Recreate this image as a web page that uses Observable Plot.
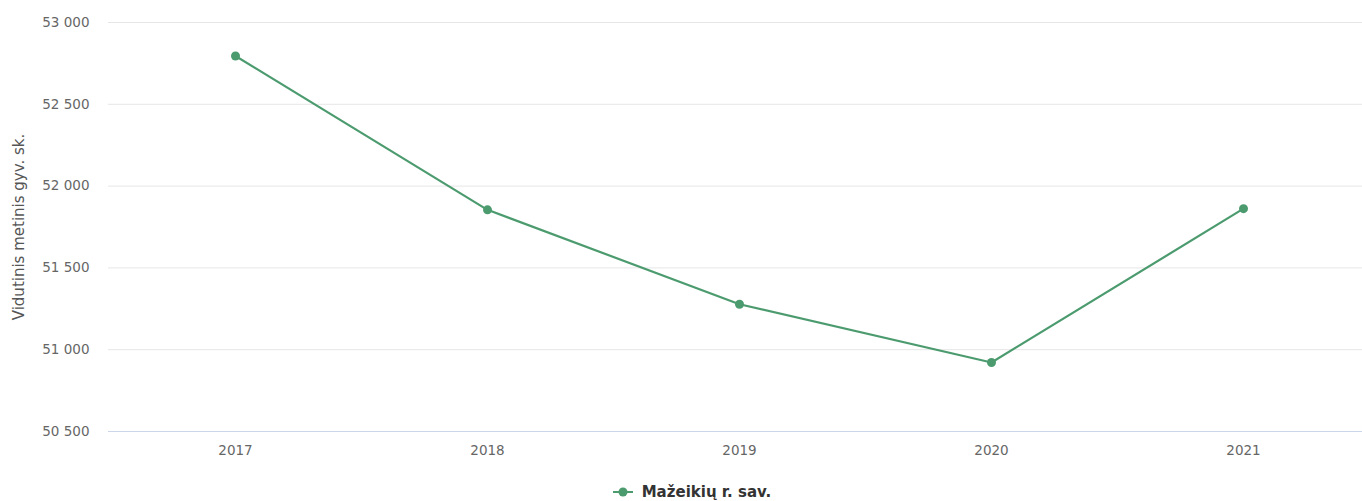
<!DOCTYPE html>
<html>
<head>
<meta charset="utf-8">
<script src="https://cdn.jsdelivr.net/npm/d3@7"></script>
<script src="https://cdn.jsdelivr.net/npm/@observablehq/plot@0.6"></script>
<style>
  body { margin: 0; background: #fff; font-family: "DejaVu Sans", sans-serif; }
  #legend { height: 31px; display: flex; justify-content: center; align-items: flex-start; padding-top: 13px; padding-left: 22px; box-sizing: border-box; }
  .item { display: flex; align-items: center; font-weight: bold; font-size: 15px; color: #333; }
</style>
</head>
<body>
<div id="chart"></div>
<div id="legend"></div>
<script>
const years = ["2017", "2018", "2019", "2020", "2021"];
const values = [52795, 51855, 51278, 50922, 51862];
const yTicks = [50500, 51000, 51500, 52000, 52500, 53000];
const seriesName = "Mažeikių r. sav.";
const yLabel = "Vidutinis metinis gyv. sk.";
const color = "#4c9b6f";

const data = years.map((y, i) => ({year: y, value: values[i]}));
const fmt = d => d3.format(",")(d).replace(/,/g, "\u00a0");

const chart = Plot.plot({
  width: 1362,
  height: 470,
  marginLeft: 108,
  marginRight: 0,
  marginTop: 22,
  marginBottom: 39,
  style: {fontFamily: "'DejaVu Sans', sans-serif", fontSize: "13.5px", color: "#666"},
  x: {type: "point", domain: years, range: [234, 1243], padding: 0},
  y: {domain: [50500, 53000], ticks: yTicks},
  marks: [
    Plot.gridY(yTicks, {stroke: "#e6e6e6", strokeOpacity: 1}),
    Plot.ruleY([50500], {stroke: "#ccd6eb", strokeWidth: 1}),
    Plot.axisY({ticks: yTicks, tickFormat: fmt, tickSize: 0, tickPadding: 19, label: null, fill: "#666"}),
    Plot.axisY({ticks: [], tickSize: 0, label: yLabel, labelAnchor: "center", labelArrow: "none", labelOffset: 95, fill: "#555", fontSize: 15}),
    Plot.axisX({tickSize: 0, tickPadding: 14, label: null, fill: "#666"}),
    Plot.line(data, {x: "year", y: "value", stroke: color, strokeWidth: 2.2}),
    Plot.dot(data, {x: "year", y: "value", r: 4.5, fill: color, stroke: "none"})
  ]
});
document.getElementById("chart").appendChild(chart);

const legend = document.getElementById("legend");
legend.innerHTML = `<div class="item"><svg width="20" height="12" style="margin-right:9px"><line x1="0" x2="20" y1="6" y2="6" stroke="${color}" stroke-width="2"/><circle cx="10" cy="6" r="4.5" fill="${color}"/></svg>${seriesName}</div>`;
</script>
</body>
</html>
